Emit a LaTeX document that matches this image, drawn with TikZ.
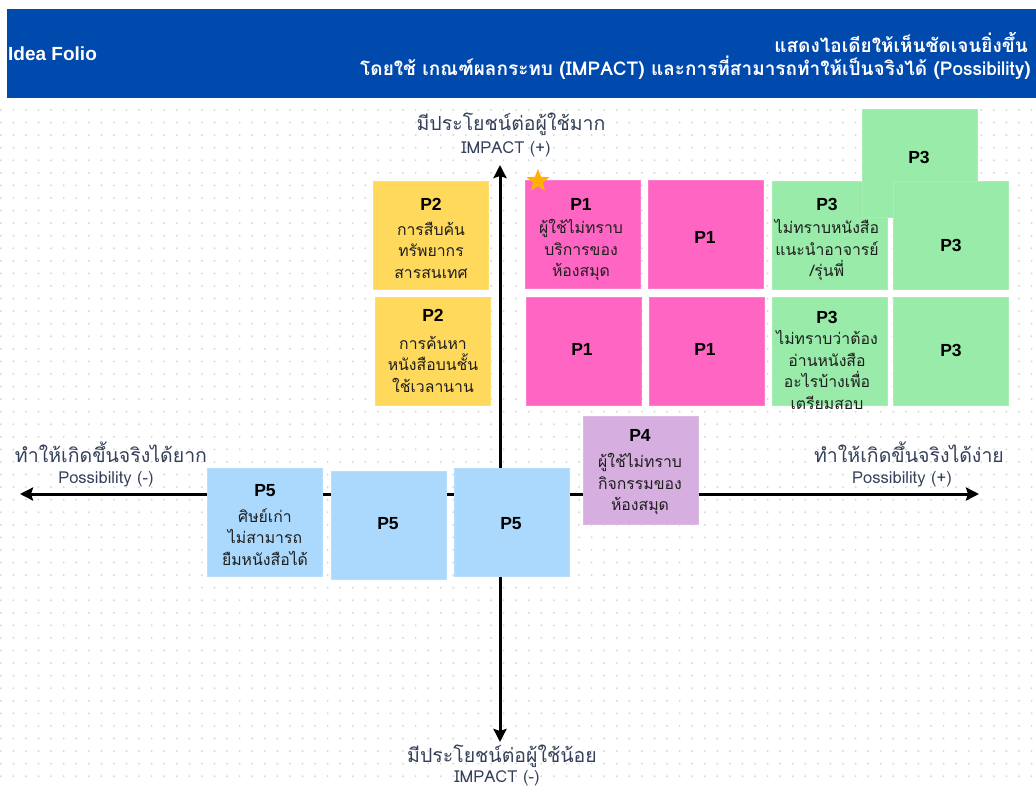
\documentclass[tikz,border=0pt]{standalone}
\usepackage{fontspec}
\setmainfont{Liberation Sans}
\newfontfamily\thai[Script=Thai]{Loma}
\usetikzlibrary{arrows.meta,shapes.geometric}

\definecolor{headerblue}{HTML}{0049AD}
\definecolor{pinknote}{HTML}{FF66C4}
\definecolor{yellownote}{HTML}{FFD95C}
\definecolor{greennote}{HTML}{98EBA8}
\definecolor{purplenote}{HTML}{D6AEDF}
\definecolor{bluenote}{HTML}{AAD9FD}
\definecolor{starfill}{HTML}{FFB000}
\definecolor{axislabel}{HTML}{34405A}
\definecolor{griddot}{HTML}{DADADA}
\definecolor{notetext}{HTML}{1E1E1E}

\tikzset{
  note/.style={draw=#1!85!white, line width=0.6pt, fill=#1, minimum width=115pt, minimum height=108pt, inner sep=0pt},
  notetitle/.style={font=\fontsize{17.5}{20}\selectfont\bfseries, text=black, inner sep=0pt},
  notebody/.style={font=\thai\fontsize{15.8}{21.5}\selectfont, text=notetext, align=center, inner sep=0pt},
  axisthai/.style={font=\thai\fontsize{19.5}{22}\selectfont, text=axislabel, inner sep=0pt},
  axislatin/.style={font=\thai\fontsize{16.5}{18}\selectfont, text=axislabel, inner sep=0pt},
  axisline/.style={line width=3pt, -{Stealth[length=13pt,width=13pt,inset=2pt]}},
  headertext/.style={text=white, inner sep=0pt}
}

\begin{document}
\begin{tikzpicture}[x=1pt,y=-1pt]
  \useasboundingbox (0,0) rectangle (1036,790);
  \fill[white] (0,0) rectangle (1036,790);

  % dotted canvas
  \foreach \i in {0,...,82}{
    \foreach \j in {0,...,53}{
      \fill[griddot] (0.8+\i*12.57,110+\j*12.57) circle (1.1);
    }
  }

  % title band
  \node[fill=headerblue, minimum width=1029pt, minimum height=89pt, inner sep=0pt, anchor=north west] (band) at (7,9) {};
  \node[headertext, anchor=west, font=\fontsize{19}{22}\selectfont\bfseries] (title) at (8,54) {Idea Folio};
  \node[headertext, anchor=east, font=\thai\bfseries\fontsize{19}{22}\selectfont] (sub1) at (1028,42) {แสดงไอเดียให้เห็นชัดเจนยิ่งขึ้น};
  \node[headertext, anchor=east, font=\thai\bfseries\fontsize{19}{22}\selectfont] (sub2) at (1031,68) {โดยใช้ เกณฑ์ผลกระทบ (IMPACT) และการที่สามารถทำให้เป็นจริงได้ (Possibility)};

  % axes
  \coordinate (origin) at (500,494);
  \coordinate (vtop) at (500,165);
  \coordinate (vbot) at (500,742);
  \coordinate (hleft) at (20,494);
  \coordinate (hright) at (979,494);
  \draw[axisline] (origin) -- (vtop);
  \draw[axisline] (origin) -- (vbot);
  \draw[axisline] (origin) -- (hleft);
  \draw[axisline] (origin) -- (hright);

  % axis captions
  \node[axisthai] (topth) at (511,124) {มีประโยชน์ต่อผู้ใช้มาก};
  \node[axislatin] (topen) at (506,149) {IMPACT (+)};
  \node[axisthai] (botth) at (502,756) {มีประโยชน์ต่อผู้ใช้น้อย};
  \node[axislatin] (boten) at (497,778) {IMPACT (-)};
  \node[axisthai] (leftth) at (111,452) {ทำให้เกิดขึ้นจริงได้ยาก};
  \node[axislatin] (leften) at (106,479) {Possibility (-)};
  \node[axisthai] (rightth) at (909,452) {ทำให้เกิดขึ้นจริงได้ง่าย};
  \node[axislatin] (righten) at (902,479) {Possibility (+)};

  % P2 notes
  \node[note=yellownote] (p2a) at (431,235) {};
  \node[notetitle] (p2at) at (431,204) {P2};
  \node[notebody] (p2ab) at (431,250) {การสืบค้น\\ทรัพยากร\\สารสนเทศ};
  \node[note=yellownote] (p2b) at (432.5,351.5) {};
  \node[notetitle] (p2bt) at (433,315) {P2};
  \node[notebody] (p2bb) at (433,364) {การค้นหา\\หนังสือบนชั้น\\ใช้เวลานาน};

  % P1 notes
  \node[note=pinknote] (p1a) at (583,234) {};
  \node[notetitle] (p1at) at (581,204) {P1};
  \node[notebody] (p1ab) at (581,250) {ผู้ใช้ไม่ทราบ\\บริการของ\\ห้องสมุด};
  \node[note=pinknote] (p1b) at (705.5,234) {};
  \node[notetitle] (p1bt) at (705,237) {P1};
  \node[note=pinknote] (p1c) at (584,351.5) {};
  \node[notetitle] (p1ct) at (582,349) {P1};
  \node[note=pinknote] (p1d) at (706.5,351.5) {};
  \node[notetitle] (p1dt) at (705,349) {P1};
  \node[star, star points=5, star point ratio=2.3, fill=starfill, minimum size=24pt, inner sep=0pt] (mark) at (538,181) {};

  % P3 notes
  \node[note=greennote] (p3a) at (829.5,235) {};
  \node[note=greennote] (p3top) at (919.5,163) {};
  \node[notetitle] (p3topt) at (919,157) {P3};
  \node[note=greennote] (p3b) at (950.5,235) {};
  \node[notetitle] (p3bt) at (951,245) {P3};
  \node[notetitle] (p3at) at (827,204) {P3};
  \node[notebody] (p3ab) at (827,250) {ไม่ทราบหนังสือ\\แนะนำอาจารย์\\/รุ่นพี่};
  \node[note=greennote] (p3c) at (829.5,351.5) {};
  \node[notetitle] (p3ct) at (827,317) {P3};
  \node[notebody] (p3cb) at (827,370) {ไม่ทราบว่าต้อง\\อ่านหนังสือ\\อะไรบ้างเพื่อ\\เตรียมสอบ};
  \node[note=greennote] (p3d) at (950.5,351.5) {};
  \node[notetitle] (p3dt) at (951,350) {P3};

  % P4 note
  \node[note=purplenote] (p4) at (640.5,470) {};
  \node[notetitle] (p4t) at (640,435) {P4};
  \node[notebody] (p4b) at (640,484) {ผู้ใช้ไม่ทราบ\\กิจกรรมของ\\ห้องสมุด};

  % P5 notes
  \node[note=bluenote] (p5a) at (265,522) {};
  \node[notetitle] (p5at) at (265,491) {P5};
  \node[notebody] (p5ab) at (265,537) {ศิษย์เก่า\\ไม่สามารถ\\ยืมหนังสือได้};
  \node[note=bluenote] (p5b) at (388.5,525.5) {};
  \node[notetitle] (p5bt) at (388,524) {P5};
  \node[note=bluenote] (p5c) at (512,522) {};
  \node[notetitle] (p5ct) at (511,524) {P5};
\end{tikzpicture}
\end{document}
